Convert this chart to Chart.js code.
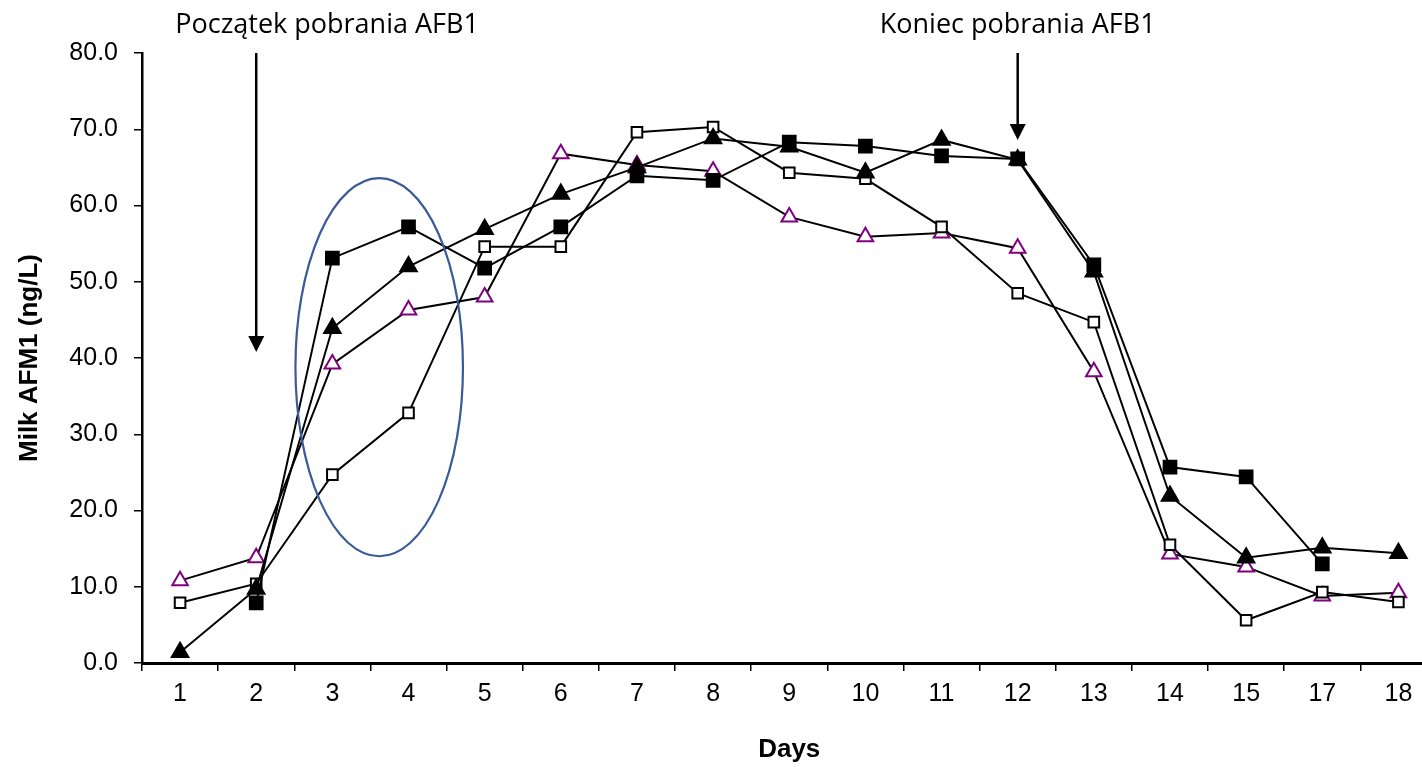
<!DOCTYPE html>
<html>
<head>
<meta charset="utf-8">
<script src="https://cdn.jsdelivr.net/npm/chart.js@4/dist/chart.umd.min.js"></script>
<style>
  html, body { margin: 0; padding: 0; background: #fff; overflow: hidden; }
  #wrap { width: 1448px; height: 767px; }
</style>
</head>
<body>
<div id="wrap"><canvas id="afmChart" width="1448" height="767"></canvas></div>
<script>
// categories (day numbers as printed on the axis; 16 is missing in the source)
var days = ['1', '2', '3', '4', '5', '6', '7', '8', '9', '10', '11', '12', '13', '14', '15', '17', '18'];

// series values, Milk AFM1 (ng/L)
var filledSquares = [null, 7.9, 53.1, 57.2, 51.8, 57.2, 63.9, 63.3, 68.3, 67.8, 66.5, 66.1, 52.2, 25.7, 24.4, 13.0, null];
var filledTriangles = [1.4, 9.7, 43.9, 52.0, 56.9, 61.5, 65.0, 68.8, 67.7, 64.3, 68.6, 66.0, 51.3, 21.9, 13.8, 15.1, 14.4];
var openSquares = [7.9, 10.4, 24.7, 32.8, 54.6, 54.6, 69.6, 70.3, 64.3, 63.5, 57.2, 48.5, 44.7, 15.5, 5.6, 9.3, 8.0];
var openTriangles = [10.8, 13.8, 39.2, 46.3, 48.0, 66.8, 65.3, 64.5, 58.5, 55.9, 56.4, 54.4, 38.2, 14.3, 12.6, 8.8, 9.2];

var yTicks = [0, 10, 20, 30, 40, 50, 60, 70, 80];

// annotations (in data units: category index / value)
var startLabel = 'Początek pobrania AFB1';
var endLabel = 'Koniec pobrania AFB1';

var axisFont = "'Liberation Sans', Arial, sans-serif";

var annotations = {
    id: 'annotations',
    afterDatasetsDraw: function (chart) {
        var ctx = chart.ctx;
        var x = chart.scales.x;
        var y = chart.scales.y;

        function arrow(px, yFrom, yTo) {
            ctx.save();
            ctx.strokeStyle = '#000';
            ctx.fillStyle = '#000';
            ctx.lineWidth = 2.5;
            ctx.beginPath();
            ctx.moveTo(px, yFrom);
            ctx.lineTo(px, yTo - 12);
            ctx.stroke();
            ctx.beginPath();
            ctx.moveTo(px - 8, yTo - 16);
            ctx.lineTo(px + 8, yTo - 16);
            ctx.lineTo(px, yTo);
            ctx.closePath();
            ctx.fill();
            ctx.restore();
        }

        // start / end arrows
        arrow(x.getPixelForValue(1), y.getPixelForValue(80), y.getPixelForValue(40.8));
        arrow(x.getPixelForValue(11), y.getPixelForValue(80), y.getPixelForValue(68.6));

        // labels above the plot
        ctx.save();
        ctx.fillStyle = '#000';
        ctx.font = "27px 'Open Sans', 'Noto Sans', sans-serif";
        ctx.textAlign = 'center';
        ctx.textBaseline = 'alphabetic';
        ctx.fillText(startLabel, x.getPixelForValue(1.93), 33);
        ctx.fillText(endLabel, x.getPixelForValue(11), 33);
        ctx.restore();

        // ellipse around days 3-4
        var cx = x.getPixelForValue(2.615);
        var cy = y.getPixelForValue(38.8);
        var rx = x.getPixelForValue(2.615 + 1.1) - cx;
        var ry = cy - y.getPixelForValue(38.8 + 24.8);
        ctx.save();
        ctx.strokeStyle = '#3A5A98';
        ctx.lineWidth = 2.2;
        ctx.beginPath();
        ctx.ellipse(cx, cy, rx, ry, 0, 0, Math.PI * 2);
        ctx.stroke();
        ctx.restore();
    }
};

function series(data, style, fill, border, radius) {
    return {
        data: data,
        borderColor: '#000',
        borderWidth: 2,
        pointStyle: style,
        pointRadius: radius,
        pointHoverRadius: radius,
        pointBackgroundColor: fill,
        pointBorderColor: border,
        pointBorderWidth: 2,
        fill: false,
        tension: 0
    };
}

var ctx = document.getElementById('afmChart').getContext('2d');
var myChart = new Chart(ctx, {
    type: 'line',
    data: {
        labels: days,
        datasets: [
            series(filledSquares, 'rect', '#000', '#000', 9),
            series(filledTriangles, 'triangle', '#000', '#000', 9.5),
            series(openSquares, 'rect', '#fff', '#000', 7.5),
            series(openTriangles, 'triangle', '#fff', '#800080', 9)
        ]
    },
    options: {
        responsive: false,
        animation: false,
        devicePixelRatio: 1,
        layout: { padding: { top: 53, right: 3, left: 0, bottom: 0 } },
        plugins: {
            legend: { display: false },
            tooltip: { enabled: false }
        },
        scales: {
            x: {
                offset: true,
                afterFit: function (scale) { scale.height = 104; },
                grid: {
                    offset: true,
                    drawOnChartArea: false,
                    drawTicks: true,
                    tickLength: 8,
                    color: '#000',
                    lineWidth: 1.5
                },
                border: { display: true, color: '#000', width: 3 },
                ticks: {
                    color: '#000',
                    padding: 8,
                    maxRotation: 0,
                    autoSkip: false,
                    font: { family: axisFont, size: 25 }
                },
                title: {
                    display: true,
                    text: 'Days',
                    color: '#000',
                    padding: { top: 0, bottom: 2 },
                    font: { family: axisFont, size: 26, weight: 'bold' }
                }
            },
            y: {
                min: 0,
                max: 80,
                afterFit: function (scale) { scale.width = 142; },
                afterBuildTicks: function (scale) {
                    scale.ticks = yTicks.map(function (v) { return { value: v }; });
                },
                grid: {
                    drawOnChartArea: false,
                    drawTicks: true,
                    tickLength: 8,
                    color: '#000',
                    lineWidth: 1.5
                },
                border: { display: true, color: '#000', width: 2.5 },
                ticks: {
                    color: '#000',
                    padding: 16,
                    font: { family: axisFont, size: 25 },
                    callback: function (v) { return Number(v).toFixed(1); }
                },
                title: {
                    display: true,
                    text: 'Milk AFM1 (ng/L)',
                    color: '#000',
                    padding: { top: 14, bottom: 0 },
                    font: { family: axisFont, size: 26, weight: 'bold' }
                }
            }
        }
    },
    plugins: [annotations]
});
</script>
</body>
</html>
